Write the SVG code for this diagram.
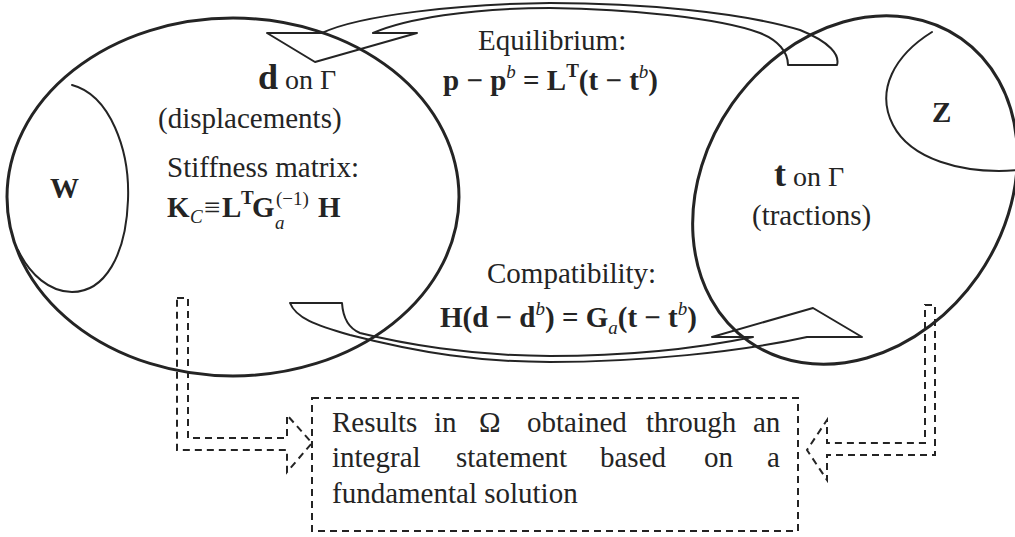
<svg xmlns="http://www.w3.org/2000/svg" width="1015" height="537" viewBox="0 0 1015 537">
<style>
.ln{fill:none;stroke:#242424;stroke-linejoin:round;stroke-linecap:round}
.thick{stroke-width:3}
.thin{stroke-width:2}
.dash{fill:none;stroke:#242424;stroke-width:2;stroke-dasharray:7 5}
.t{font-family:"Liberation Serif","Times New Roman",serif;fill:#242424;font-size:29px}
.b{font-weight:bold}
.i{font-style:italic;font-weight:normal}
.s{font-size:19px}
</style>
<rect width="1015" height="537" fill="#ffffff"/>

<g id="node-d">
  <ellipse class="ln thick" cx="233" cy="197" rx="226" ry="179"/>
  <text class="t" y="89"><tspan x="258" class="b" font-size="36">d</tspan><tspan font-size="28"> on Γ</tspan></text>
  <text class="t" x="158" y="128">(displacements)</text>
  <text class="t" x="167" y="177">Stiffness matrix:</text>
  <text class="t b" x="167" y="217">K</text>
  <text class="t s i" x="190" y="223">C</text>
  <text class="t" x="204" y="217">≡</text>
  <text class="t b" x="222" y="217">L</text>
  <text class="t b s" x="241" y="204">T</text>
  <text class="t b" x="252" y="217">G</text>
  <text class="t s i" x="275" y="229">a</text>
  <text class="t s" x="276" y="205">(−1)</text>
  <text class="t b" x="318" y="217">H</text>
</g>

<g id="node-W">
  <path class="ln thin" d="M72,85 C110,95 130,150 128,200 C126,255 105,292 72,292 C50,292 30,275 18,250"/>
  <text class="t b" x="50" y="198" font-size="30">W</text>
</g>

<g id="node-t">
  <ellipse class="ln thick" cx="855" cy="190" rx="150" ry="185" transform="rotate(35 855 190)"/>
  <text class="t" y="186"><tspan x="774" class="b" font-size="36">t</tspan><tspan font-size="28"> on Γ</tspan></text>
  <text class="t" x="752" y="225">(tractions)</text>
</g>

<g id="node-Z">
  <path class="ln thin" d="M932,32 C895,55 875,90 893,125 C910,158 960,175 1020,170"/>
  <text class="t b" x="932" y="122" font-size="30">Z</text>
</g>

<g id="label-equilibrium">
  <text class="t" x="478" y="50">Equilibrium:</text>
  <text class="t b" x="443" y="90" font-size="31">p − p<tspan class="s i" dy="-12">b</tspan><tspan dy="12"> = L</tspan><tspan class="s" dy="-13">T</tspan><tspan dy="13">(t − t</tspan><tspan class="s i" dy="-12">b</tspan><tspan dy="12">)</tspan></text>
</g>

<g id="label-compatibility">
  <text class="t" x="487" y="283">Compatibility:</text>
  <text class="t b" x="440" y="327" font-size="31">H(d − d<tspan class="s i" dy="-12">b</tspan><tspan dy="12">) = G</tspan><tspan class="s i" dy="7">a</tspan><tspan dy="-7">(t − t</tspan><tspan class="s i" dy="-12">b</tspan><tspan dy="12">)</tspan></text>
</g>

<g id="node-results">
  <rect class="dash" x="312" y="398" width="486" height="133"/>
  <text class="t" y="432"><tspan x="332">Results</tspan><tspan x="434">in</tspan><tspan x="479">Ω</tspan><tspan x="527">obtained</tspan><tspan x="646">through</tspan><tspan x="753">an</tspan></text>
  <text class="t" y="467"><tspan x="332">integral</tspan><tspan x="456">statement</tspan><tspan x="600">based</tspan><tspan x="704">on</tspan><tspan x="767">a</tspan></text>
  <text class="t" x="332" y="503">fundamental solution</text>
</g>

<g id="connectors">
  <path id="arrow-equilibrium" class="ln thin" d="M315,62 L267,33 L322,33 C360,15 460,4 550,3 C640,3 740,12 800,30 C830,42 840,55 837,65 L788,65 C788,52 778,40 760,33 C720,18 630,9 550,8 C470,8 405,19 373,33 L417,33 Z"/>
  <path id="arrow-compatibility" class="ln thin" d="M813,308 L712,337 L753,337 C690,350 620,356 550,356 C470,356 400,343 360,333 C348,328 343,318 342,303 L290,303 C296,318 315,325 350,335 C420,353 480,362 550,362 C640,362 740,352 807,337 L862,337 Z"/>
  <path id="arrow-left-results" class="dash" d="M177,298 L188,298 L188,438 L287,438 L287,415 L312,443 L287,472 L287,450 L177,450 Z"/>
  <path id="arrow-right-results" class="dash" d="M925,305 L935,305 L935,455 L827,455 L827,480 L807,450 L827,420 L827,443 L925,443 Z"/>
</g>
</svg>
